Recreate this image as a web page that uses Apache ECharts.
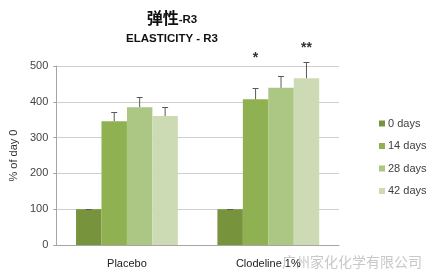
<!DOCTYPE html>
<html><head><meta charset="utf-8">
<script src="https://cdn.jsdelivr.net/npm/echarts@6/dist/echarts.min.js"></script>
<style>html,body{margin:0;padding:0;background:#fff}#c{width:433px;height:279px}</style>
</head><body><div id="c"></div>
<script>
var categories = ['Placebo', 'Clodeline 1%'];
var seriesNames = ['0 days', '14 days', '28 days', '42 days'];
var values = [
  [100, 100],
  [346, 407],
  [385, 439],
  [360, 466]
];
var errors = [
  [0.5, 0.5],
  [25, 31],
  [28, 33],
  [25, 46]
];
var significance = [
  ['', ''],
  ['', '*'],
  ['', ''],
  ['', '**']
];
var significanceLevel = [
  [0, 0],
  [0, 522],
  [0, 0],
  [0, 550]
];
var yTicks = [0, 100, 200, 300, 400, 500];
var colors = ['#77933c', '#8fb152', '#acc784', '#ccdbb3'];

var gap = 0.28;
var series = [];
seriesNames.forEach(function (n, i) {
  series.push({
    name: n, type: 'bar', data: values[i], barGap: '0%', barCategoryGap: (gap * 100) + '%',
    itemStyle: { color: colors[i] }, animation: false
  });
});
seriesNames.forEach(function (n, i) {
  series.push({
    type: 'custom', animation: false, silent: true, z: 5,
    data: values[i].map(function (v, j) { return [j, v, errors[i][j]]; }),
    renderItem: function (params, api) {
      var idx = api.value(0);
      var v = api.value(1), e = api.value(2);
      var band = api.size([1, 0])[0];
      var bw = band * (1 - gap) / 4;
      var c = api.coord([idx, 0]);
      var x = c[0] - 2 * bw + bw * (i + 0.5);
      var yTop = api.coord([idx, v])[1];
      var yErr = Math.round(api.coord([idx, v + e])[1]) + 0.5;
      var children = [];
      if (e > 0) {
        children.push({ type: 'line', shape: { x1: x, y1: yTop, x2: x, y2: yErr }, style: { stroke: '#595959', lineWidth: 1 } });
        children.push({ type: 'line', shape: { x1: x - 3, y1: yErr, x2: x + 3, y2: yErr }, style: { stroke: '#595959', lineWidth: 1 } });
      }
      var s = significance[i][idx];
      if (s) {
        var ys = api.coord([idx, significanceLevel[i][idx]])[1];
        children.push({ type: 'text', style: { text: s, x: x, y: ys, align: 'center', verticalAlign: 'middle', fill: '#333', font: 'bold 14px "Liberation Sans", Arial' } });
      }
      return { type: 'group', children: children };
    },
    encode: { x: 0, y: 1 }
  });
});

var chart = echarts.init(document.getElementById('c'), null, { renderer: 'canvas' });
chart.setOption({
  animation: false,
  backgroundColor: '#fff',
  title: [
    { text: '{a|弹性}{b|-R3}', left: 167, top: 5, textAlign: 'center',
      textStyle: { rich: { a: { fontSize: 16, fontWeight: 'bold', color: '#111', fontFamily: 'Noto Sans CJK SC' },
                           b: { fontSize: 11.5, fontWeight: 'bold', color: '#111', fontFamily: 'Liberation Sans', padding: [3, 0, 0, 0] } } } },
    { text: 'ELASTICITY - R3', left: 167, top: 28, textAlign: 'center',
      textStyle: { fontSize: 11.5, fontWeight: 'bold', color: '#111', fontFamily: 'Liberation Sans' } }
  ],
  legend: {
    orient: 'vertical', left: 374, top: 113, itemWidth: 6, itemHeight: 6, itemGap: 11.5,
    data: seriesNames, icon: 'rect',
    textStyle: { fontSize: 11, color: '#404040', fontFamily: 'Liberation Sans', padding: [0, 0, 0, -2] }
  },
  grid: { left: 54, right: 94, top: 66, bottom: 34 },
  xAxis: {
    type: 'category', data: categories,
    axisLine: { lineStyle: { color: '#a6a6a6' } }, axisTick: { show: false },
    axisLabel: { fontSize: 11, color: '#222', margin: 13, fontFamily: 'Liberation Sans' }
  },
  yAxis: {
    type: 'value', min: yTicks[0], max: yTicks[yTicks.length - 1], interval: 100,
    name: '% of day 0', nameLocation: 'middle', nameGap: 33, nameRotate: 90,
    nameTextStyle: { fontSize: 11, color: '#333', fontFamily: 'Liberation Sans' },
    axisLine: { show: true, lineStyle: { color: '#a6a6a6' } },
    axisTick: { show: true, length: 3, lineStyle: { color: '#a6a6a6' } },
    axisLabel: { fontSize: 11, color: '#444', margin: 8, fontFamily: 'Liberation Sans' },
    splitLine: { lineStyle: { color: '#cfcfcf' } }
  },
  graphic: [
    { type: 'text', left: 282, top: 255, style: { text: '广州家化化学有限公司', fill: '#c8c8c8', font: '14px "Noto Sans CJK SC"' } }
  ],
  series: series
});
</script></body></html>
